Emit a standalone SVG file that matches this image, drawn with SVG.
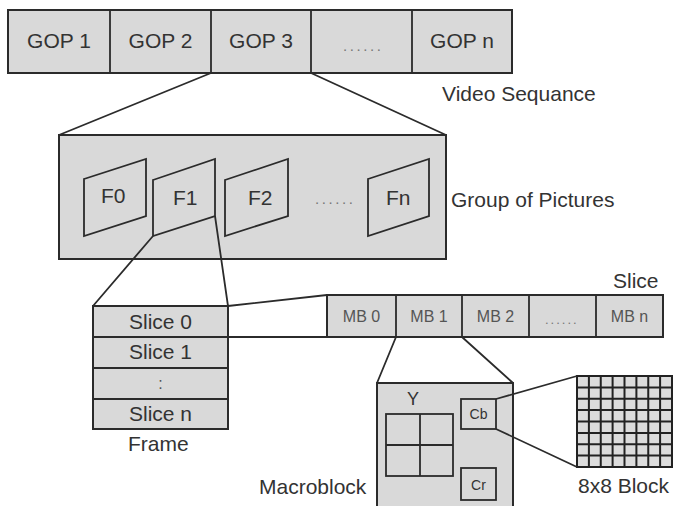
<svg xmlns="http://www.w3.org/2000/svg" width="675" height="506" viewBox="0 0 675 506">
<style>
.box{fill:#d9d9d9;stroke:#2b2b2b;stroke-width:2}
.ln{fill:none;stroke:#2b2b2b;stroke-width:1.8}
.t{font-family:"Liberation Sans",Arial,sans-serif;font-size:21px;fill:#333}
.c{text-anchor:middle}
.s{font-size:16px;fill:#555}
.d{font-size:15px;fill:#777;letter-spacing:2.6px}
</style>
<rect width="675" height="506" fill="#fff"/>
<g id="video-sequence">
<rect class="box" x="8" y="10" width="504" height="63"/>
<path class="ln" d="M110 10V73M211 10V73M311 10V73M412 10V73"/>
<text class="t c" x="59" y="48">GOP 1</text>
<text class="t c" x="160.5" y="48">GOP 2</text>
<text class="t c" x="261" y="48">GOP 3</text>
<text class="t d" x="343" y="51">......</text>
<text class="t c" x="462" y="48">GOP n</text>
<text class="t" x="442" y="101">Video Sequance</text>
</g>
<g id="group-of-pictures">
<rect class="box" x="59" y="135" width="387" height="124"/>
<polygon class="ln" points="84,179 146,159 146,216 84,236"/>
<polygon class="ln" points="153,180 215,159 215,216 153,236"/>
<polygon class="ln" points="225,180 288,159 288,216 225,236"/>
<polygon class="ln" points="368,179 429,159 429,216 368,236"/>
<text class="t" x="101" y="203">F0</text>
<text class="t" x="173" y="205">F1</text>
<text class="t" x="248" y="205">F2</text>
<text class="t d" x="315" y="204">......</text>
<text class="t" x="386" y="205">Fn</text>
<text class="t" x="451" y="207">Group of Pictures</text>
</g>
<g id="frame">
<rect class="box" x="93" y="306" width="135" height="123"/>
<path class="ln" d="M93 337H228M93 368H228M93 399H228"/>
<text class="t c" x="160.5" y="329">Slice 0</text>
<text class="t c" x="160.5" y="359">Slice 1</text>
<text class="t c s" x="160.5" y="389">:</text>
<text class="t c" x="160.5" y="421">Slice n</text>
<text class="t" x="128" y="451">Frame</text>
</g>
<g id="slice">
<rect class="box" x="327" y="295" width="336" height="42"/>
<path class="ln" d="M396 295V337M462 295V337M529 295V337M596 295V337"/>
<text class="t c s" x="361.5" y="322">MB 0</text>
<text class="t c s" x="429" y="322">MB 1</text>
<text class="t c s" x="495.5" y="322">MB 2</text>
<text class="t d" x="545" y="324" style="font-size:13px;letter-spacing:2px">......</text>
<text class="t c s" x="629.5" y="322">MB n</text>
<text class="t" x="613" y="288">Slice</text>
</g>
<g id="macroblock">
<rect class="box" x="377" y="383" width="136" height="130"/>
<rect class="ln" x="386" y="414" width="67" height="62"/>
<path class="ln" d="M420 414V476M386 445H453"/>
<rect class="ln" x="461" y="399" width="35" height="30"/>
<rect class="ln" x="461" y="468" width="35" height="32"/>
<text class="t c" x="413" y="405" style="font-size:18px">Y</text>
<text class="t c" x="478.5" y="419" style="font-size:14px">Cb</text>
<text class="t c" x="478.5" y="490" style="font-size:14px">Cr</text>
<text class="t" x="259" y="494">Macroblock</text>
</g>
<g id="block-8x8">
<rect x="577" y="376" width="95" height="91" fill="#dcdcdc" stroke="#222" stroke-width="2"/>
<path fill="none" stroke="#222" stroke-width="2" d="M588.9 376V467M600.75 376V467M612.6 376V467M624.5 376V467M636.4 376V467M648.25 376V467M660.1 376V467M577 387.4H672M577 398.75H672M577 410.1H672M577 421.5H672M577 432.9H672M577 444.25H672M577 455.6H672"/>
<text class="t" x="578" y="493">8x8 Block</text>
</g>
<g id="connectors">
<path class="ln" d="M211 73L59 135M311 73L446 135M153 236L93 306M215 216L228 306M228 306L327 295M228 337L327 337M396 337L377 383M462 337L513 383M496 399L577 376M496 429L577 467"/>
</g>
</svg>
